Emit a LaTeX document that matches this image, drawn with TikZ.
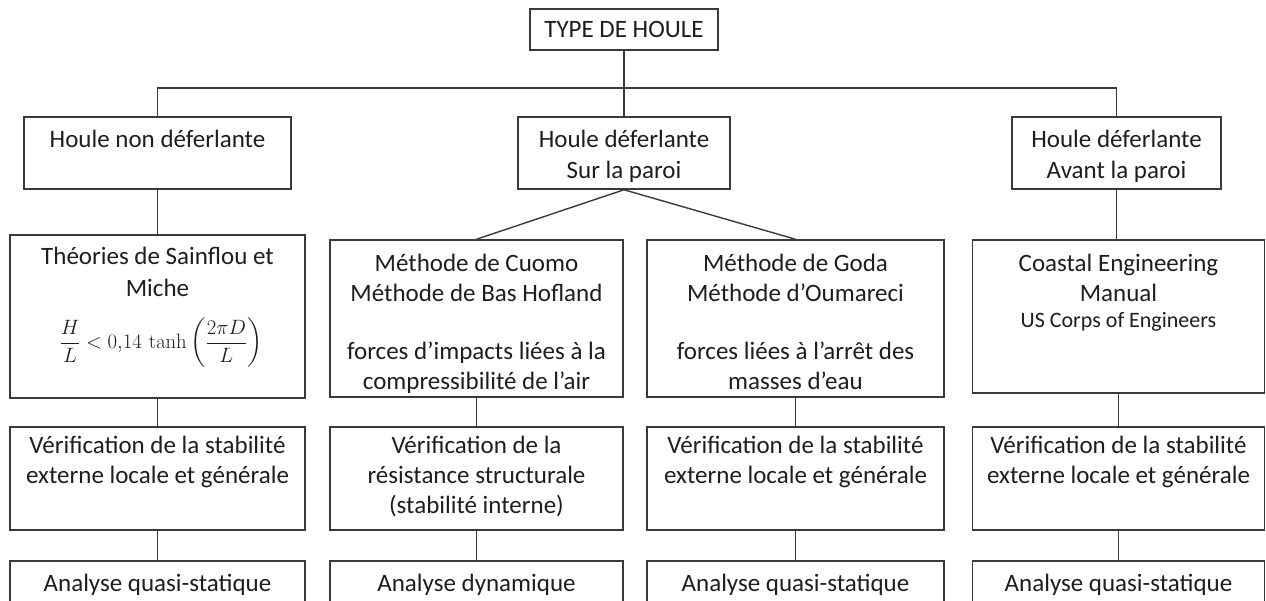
\documentclass[tikz,border=0pt]{standalone}
\usepackage{amsmath}
\usepackage[no-math]{fontspec}
\setmainfont{Carlito}
\definecolor{ink}{HTML}{1E1E1E}
\definecolor{edge}{HTML}{3A3A3A}
\tikzset{
  box/.style={draw=edge, line width=1.5pt, inner sep=0pt, minimum width=#1},
  txt/.style={anchor=base, inner sep=0pt, text=ink, font=\fontsize{25}{30}\selectfont},
  smalltxt/.style={anchor=base, inner sep=0pt, text=ink, font=\fontsize{22}{26}\selectfont},
  link/.style={draw=edge, line width=1.4pt},
}
\begin{document}
\begin{tikzpicture}[x=1pt,y=-1pt]
\useasboundingbox (0,0) rectangle (1266,600);
\fill[white] (0,0) rectangle (1266,600);
\clip (0,0) rectangle (1266,600);
% ---- boxes
\node[box=188pt, minimum height=41pt] (top) at (624,29.5) {};
\node[box=267pt, minimum height=72pt] (hA) at (157.5,153) {};
\node[box=212pt, minimum height=72pt] (hB) at (624,153) {};
\node[box=209pt, minimum height=72pt] (hC) at (1116.5,153) {};
\node[box=295pt, minimum height=163pt] (mA) at (157.5,316.5) {};
\node[box=293pt, minimum height=157pt] (mB) at (476.5,318.5) {};
\node[box=297pt, minimum height=157pt] (mC) at (795.5,318.5) {};
\node[box=292pt, minimum height=153pt] (mD) at (1118.5,316.5) {};
\node[box=295pt, minimum height=103pt] (vA) at (157.5,478.5) {};
\node[box=293pt, minimum height=103pt] (vB) at (476.5,478.5) {};
\node[box=297pt, minimum height=103pt] (vC) at (795.5,478.5) {};
\node[box=292pt, minimum height=103pt] (vD) at (1118.5,478.5) {};
\node[box=295pt, minimum height=79pt] (aA) at (157.5,600.5) {};
\node[box=293pt, minimum height=79pt] (aB) at (476.5,600.5) {};
\node[box=297pt, minimum height=79pt] (aC) at (795.5,600.5) {};
\node[box=292pt, minimum height=79pt] (aD) at (1118.5,600.5) {};
% ---- connectors
\coordinate (bus) at (624,88);
\draw[link] (top.south) -- (hB.north);
\draw[link] (hA.north) |- (bus) -| (hC.north);
\draw[link] (hA.south) -- (mA.north);
\draw[link] (hB.south) -- (mB.north);
\draw[link] (hB.south) -- (mC.north);
\draw[link] (hC.south) -- (hC.south |- mD.north);
\draw[link] (mA.south) -- (vA.north);
\draw[link] (mB.south) -- (vB.north);
\draw[link] (mC.south) -- (vC.north);
\draw[link] (mD.south) -- (vD.north);
\draw[link] (vA.south) -- (aA.north);
\draw[link] (vB.south) -- (aB.north);
\draw[link] (vC.south) -- (aC.north);
\draw[link] (vD.south) -- (aD.north);
% ---- texts
\node[txt] (t0) at (624,37.5) {TYPE DE HOULE};
\node[txt] (tA1) at (157.5,147) {Houle non déferlante};
\node[txt] (tB1) at (624,147) {Houle déferlante};
\node[txt] (tB2) at (624,178) {Sur la paroi};
\node[txt] (tC1) at (1116.5,147) {Houle déferlante};
\node[txt] (tC2) at (1116.5,178) {Avant la paroi};
% row 2
\node[txt] (mA1) at (157.5,264) {Théories de Sainflou et};
\node[txt] (mA2) at (157.5,296) {Miche};
\node[anchor=center, inner sep=0pt, text=ink, font=\fontsize{19.5}{23}\selectfont] (mA3) at (161,343)
  {$\dfrac{H}{L} < 0{,}14\,\tanh\left(\dfrac{2\pi D}{L}\right)$};
\node[txt] (mB1) at (476.5,271) {Méthode de Cuomo};
\node[txt] (mB2) at (476.5,301) {Méthode de Bas Hofland};
\node[txt] (mB3) at (476.5,359) {forces d’impacts liées à la};
\node[txt] (mB4) at (476.5,389) {compressibilité de l’air};
\node[txt] (mC1) at (795.5,271) {Méthode de Goda};
\node[txt] (mC2) at (795.5,301) {Méthode d’Oumareci};
\node[txt] (mC3) at (795.5,359) {forces liées à l’arrêt des};
\node[txt] (mC4) at (795.5,389) {masses d’eau};
\node[txt] (mD1) at (1118.5,271) {Coastal Engineering};
\node[txt] (mD2) at (1118.5,301) {Manual};
\node[smalltxt] (mD3) at (1118.5,327) {US Corps of Engineers};
% row 3
\node[txt] (vA1) at (157.5,453) {Vérification de la stabilité};
\node[txt] (vA2) at (157.5,483) {externe locale et générale};
\node[txt] (vB1) at (476.5,453) {Vérification de la};
\node[txt] (vB2) at (476.5,483) {résistance structurale};
\node[txt] (vB3) at (476.5,513) {(stabilité interne)};
\node[txt] (vC1) at (795.5,453) {Vérification de la stabilité};
\node[txt] (vC2) at (795.5,483) {externe locale et générale};
\node[txt] (vD1) at (1118.5,453) {Vérification de la stabilité};
\node[txt] (vD2) at (1118.5,483) {externe locale et générale};
% row 4
\node[txt] (aA1) at (157.5,591) {Analyse quasi-statique};
\node[txt] (aB1) at (476.5,591) {Analyse dynamique};
\node[txt] (aC1) at (795.5,591) {Analyse quasi-statique};
\node[txt] (aD1) at (1118.5,591) {Analyse quasi-statique};
\end{tikzpicture}
\end{document}
